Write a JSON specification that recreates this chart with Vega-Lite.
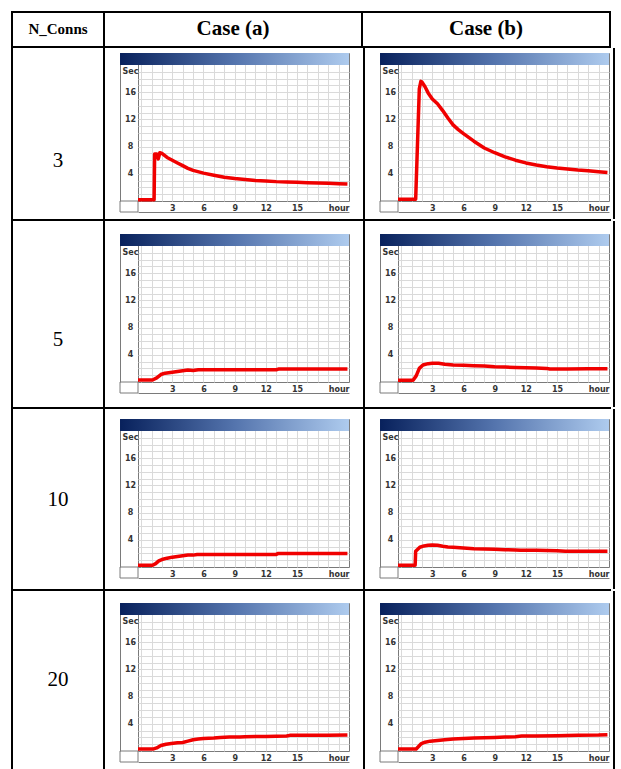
{
  "$schema": "https://vega.github.io/schema/vega-lite/v6.json",
  "padding": {"left": 11, "top": 11, "right": 8, "bottom": 0},
  "background": "white",
  "spacing": 0,
  "config": {
    "view": {"stroke": null},
    "concat": {"spacing": 0},
    "axis": {"grid": true, "domain": true, "labelFont": "DejaVu Sans", "labelFontWeight": "bold", "labelFontSize": 8, "labelColor": "#333333", "ticks": false, "domainColor": "#7a7a7a", "domainWidth": 1, "gridColor": "#dadada", "gridWidth": 1, "labelOverlap": false, "labelFlush": false, "labelBound": false, "labelBaseline": "middle"},
    "axisX": {"labelPadding": -4},
    "axisY": {"labelPadding": -10, "labelAlign": "center"},
    "line": {"color": "#f00000", "strokeWidth": 3.5, "strokeJoin": "round"}
  },
  "datasets": {
    "a1": [{"hour": -0.3, "sec": 0.2}, {"hour": 1.25, "sec": 0.2}, {"hour": 1.3, "sec": 6.9}, {"hour": 1.5, "sec": 6.9}, {"hour": 1.65, "sec": 6.2}, {"hour": 1.8, "sec": 7.1}, {"hour": 2.0, "sec": 7.0}, {"hour": 2.5, "sec": 6.4}, {"hour": 3, "sec": 6.0}, {"hour": 3.5, "sec": 5.6}, {"hour": 4, "sec": 5.2}, {"hour": 4.5, "sec": 4.8}, {"hour": 5, "sec": 4.5}, {"hour": 6, "sec": 4.1}, {"hour": 7, "sec": 3.8}, {"hour": 8, "sec": 3.5}, {"hour": 9, "sec": 3.3}, {"hour": 10, "sec": 3.15}, {"hour": 11, "sec": 3.0}, {"hour": 12, "sec": 2.95}, {"hour": 13, "sec": 2.85}, {"hour": 14, "sec": 2.8}, {"hour": 15, "sec": 2.75}, {"hour": 16, "sec": 2.7}, {"hour": 17, "sec": 2.65}, {"hour": 18, "sec": 2.6}, {"hour": 19, "sec": 2.55}, {"hour": 19.85, "sec": 2.5}],
    "b1": [{"hour": -0.3, "sec": 0.25}, {"hour": 1.4, "sec": 0.25}, {"hour": 1.75, "sec": 16.5}, {"hour": 1.9, "sec": 17.6}, {"hour": 2.0, "sec": 17.5}, {"hour": 2.3, "sec": 16.8}, {"hour": 2.6, "sec": 15.9}, {"hour": 3.0, "sec": 15.0}, {"hour": 3.5, "sec": 14.3}, {"hour": 4.0, "sec": 13.3}, {"hour": 4.5, "sec": 12.2}, {"hour": 5.0, "sec": 11.2}, {"hour": 5.5, "sec": 10.5}, {"hour": 6, "sec": 9.9}, {"hour": 7, "sec": 8.8}, {"hour": 8, "sec": 7.8}, {"hour": 9, "sec": 7.1}, {"hour": 10, "sec": 6.5}, {"hour": 11, "sec": 6.0}, {"hour": 12, "sec": 5.6}, {"hour": 13, "sec": 5.3}, {"hour": 14, "sec": 5.05}, {"hour": 15, "sec": 4.85}, {"hour": 16, "sec": 4.7}, {"hour": 17, "sec": 4.55}, {"hour": 18, "sec": 4.45}, {"hour": 19, "sec": 4.3}, {"hour": 19.85, "sec": 4.2}],
    "a2": [{"hour": -0.3, "sec": 0.3}, {"hour": 1.1, "sec": 0.3}, {"hour": 1.5, "sec": 0.6}, {"hour": 1.9, "sec": 1.1}, {"hour": 2.3, "sec": 1.3}, {"hour": 3.0, "sec": 1.45}, {"hour": 3.5, "sec": 1.55}, {"hour": 4.0, "sec": 1.65}, {"hour": 4.5, "sec": 1.75}, {"hour": 5.0, "sec": 1.7}, {"hour": 5.5, "sec": 1.8}, {"hour": 6, "sec": 1.8}, {"hour": 8, "sec": 1.8}, {"hour": 10, "sec": 1.8}, {"hour": 12, "sec": 1.8}, {"hour": 13.0, "sec": 1.8}, {"hour": 13.2, "sec": 1.9}, {"hour": 15, "sec": 1.9}, {"hour": 17, "sec": 1.9}, {"hour": 19.85, "sec": 1.9}],
    "b2": [{"hour": -0.3, "sec": 0.25}, {"hour": 1.15, "sec": 0.25}, {"hour": 1.45, "sec": 0.9}, {"hour": 1.75, "sec": 2.0}, {"hour": 2.1, "sec": 2.5}, {"hour": 2.6, "sec": 2.7}, {"hour": 3.0, "sec": 2.75}, {"hour": 3.6, "sec": 2.75}, {"hour": 4.2, "sec": 2.6}, {"hour": 5, "sec": 2.5}, {"hour": 6, "sec": 2.45}, {"hour": 7, "sec": 2.4}, {"hour": 8, "sec": 2.35}, {"hour": 9, "sec": 2.25}, {"hour": 10, "sec": 2.2}, {"hour": 11, "sec": 2.15}, {"hour": 12, "sec": 2.1}, {"hour": 13, "sec": 2.05}, {"hour": 14, "sec": 2.0}, {"hour": 14.3, "sec": 1.9}, {"hour": 16, "sec": 1.9}, {"hour": 18, "sec": 1.95}, {"hour": 19.85, "sec": 1.95}],
    "a3": [{"hour": -0.3, "sec": 0.25}, {"hour": 1.1, "sec": 0.25}, {"hour": 1.4, "sec": 0.5}, {"hour": 1.7, "sec": 0.9}, {"hour": 2.0, "sec": 1.1}, {"hour": 2.5, "sec": 1.3}, {"hour": 3.0, "sec": 1.45}, {"hour": 3.5, "sec": 1.55}, {"hour": 4.0, "sec": 1.65}, {"hour": 4.5, "sec": 1.75}, {"hour": 5.0, "sec": 1.75}, {"hour": 5.4, "sec": 1.85}, {"hour": 6, "sec": 1.85}, {"hour": 8, "sec": 1.85}, {"hour": 10, "sec": 1.85}, {"hour": 12, "sec": 1.85}, {"hour": 13.0, "sec": 1.85}, {"hour": 13.2, "sec": 2.0}, {"hour": 15, "sec": 2.0}, {"hour": 17, "sec": 2.0}, {"hour": 19.85, "sec": 2.0}],
    "b3": [{"hour": -0.3, "sec": 0.25}, {"hour": 1.35, "sec": 0.25}, {"hour": 1.4, "sec": 2.3}, {"hour": 1.6, "sec": 2.6}, {"hour": 1.8, "sec": 2.9}, {"hour": 2.2, "sec": 3.1}, {"hour": 2.6, "sec": 3.2}, {"hour": 3.0, "sec": 3.25}, {"hour": 3.5, "sec": 3.2}, {"hour": 4.0, "sec": 3.05}, {"hour": 4.5, "sec": 2.95}, {"hour": 5, "sec": 2.9}, {"hour": 6, "sec": 2.8}, {"hour": 7, "sec": 2.7}, {"hour": 8, "sec": 2.65}, {"hour": 9, "sec": 2.6}, {"hour": 10, "sec": 2.55}, {"hour": 11, "sec": 2.5}, {"hour": 11.5, "sec": 2.45}, {"hour": 13, "sec": 2.45}, {"hour": 15, "sec": 2.4}, {"hour": 15.8, "sec": 2.3}, {"hour": 17, "sec": 2.3}, {"hour": 19.85, "sec": 2.3}],
    "a4": [{"hour": -0.3, "sec": 0.3}, {"hour": 1.2, "sec": 0.3}, {"hour": 1.5, "sec": 0.45}, {"hour": 1.9, "sec": 0.8}, {"hour": 2.4, "sec": 1.0}, {"hour": 2.9, "sec": 1.1}, {"hour": 3.5, "sec": 1.2}, {"hour": 4.0, "sec": 1.25}, {"hour": 4.5, "sec": 1.45}, {"hour": 5.0, "sec": 1.65}, {"hour": 5.5, "sec": 1.75}, {"hour": 6, "sec": 1.85}, {"hour": 7, "sec": 1.9}, {"hour": 7.6, "sec": 2.0}, {"hour": 8.5, "sec": 2.05}, {"hour": 9.5, "sec": 2.05}, {"hour": 10, "sec": 2.1}, {"hour": 12, "sec": 2.15}, {"hour": 14, "sec": 2.2}, {"hour": 14.3, "sec": 2.3}, {"hour": 16, "sec": 2.3}, {"hour": 18, "sec": 2.3}, {"hour": 19.85, "sec": 2.35}],
    "b4": [{"hour": -0.3, "sec": 0.3}, {"hour": 1.45, "sec": 0.3}, {"hour": 1.7, "sec": 0.7}, {"hour": 1.95, "sec": 1.1}, {"hour": 2.3, "sec": 1.3}, {"hour": 2.8, "sec": 1.45}, {"hour": 3.5, "sec": 1.55}, {"hour": 4.2, "sec": 1.65}, {"hour": 5, "sec": 1.75}, {"hour": 6, "sec": 1.85}, {"hour": 7, "sec": 1.9}, {"hour": 8, "sec": 1.95}, {"hour": 9, "sec": 2.0}, {"hour": 10, "sec": 2.05}, {"hour": 11, "sec": 2.1}, {"hour": 11.6, "sec": 2.2}, {"hour": 13, "sec": 2.2}, {"hour": 15, "sec": 2.25}, {"hour": 17, "sec": 2.3}, {"hour": 19, "sec": 2.35}, {"hour": 19.85, "sec": 2.4}]
  },
  "vconcat": [
    {"width": 600, "height": 2, "data": {"values": []}, "mark": "point", "encoding": {}, "view": {"fill": "#000000", "stroke": null}},
    {"spacing": 0, "hconcat": [
      {"width": 2, "height": 33, "data": {"values": []}, "mark": "point", "encoding": {}, "view": {"fill": "#000000", "stroke": null}},
      {"width": 90, "height": 33, "data": {"values": [{"t": "N_Conns"}]}, "mark": {"type": "text", "font": "Liberation Serif", "fontWeight": "bold", "fontSize": 15, "dy": -1, "color": "#000"}, "encoding": {"text": {"field": "t"}}},
      {"width": 2, "height": 33, "data": {"values": []}, "mark": "point", "encoding": {}, "view": {"fill": "#000000", "stroke": null}},
      {"width": 256, "height": 33, "data": {"values": [{"t": "Case (a)"}]}, "mark": {"type": "text", "font": "Liberation Serif", "fontWeight": "bold", "fontSize": 21, "dy": -1, "color": "#000"}, "encoding": {"text": {"field": "t"}}},
      {"width": 2, "height": 33, "data": {"values": []}, "mark": "point", "encoding": {}, "view": {"fill": "#000000", "stroke": null}},
      {"width": 246, "height": 33, "data": {"values": [{"t": "Case (b)"}]}, "mark": {"type": "text", "font": "Liberation Serif", "fontWeight": "bold", "fontSize": 21, "dy": -1, "color": "#000"}, "encoding": {"text": {"field": "t"}}},
      {"width": 2, "height": 33, "data": {"values": []}, "mark": "point", "encoding": {}, "view": {"fill": "#000000", "stroke": null}}
    ]},
    {"width": 600, "height": 2, "data": {"values": []}, "mark": "point", "encoding": {}, "view": {"fill": "#000000", "stroke": null}},
    {"spacing": 0, "hconcat": [
      {"width": 2, "height": 171, "data": {"values": []}, "mark": "point", "encoding": {}, "view": {"fill": "#000000", "stroke": null}},
      {"width": 90, "height": 171, "data": {"values": [{"t": "3"}]}, "mark": {"type": "text", "font": "Liberation Serif", "fontSize": 21, "dy": 27, "color": "#000"}, "encoding": {"text": {"field": "t"}}},
      {"width": 2, "height": 171, "data": {"values": []}, "mark": "point", "encoding": {}, "view": {"fill": "#000000", "stroke": null}},
      {"spacing": 0, "vconcat": [
        {"width": 10, "height": 4, "data": {"values": []}, "mark": "point", "encoding": {}},
        {"width": 211, "height": 148, "view": {"stroke": "#7a7a7a"}, "layer": [
          {"data": {"values": [{}]}, "mark": {"type": "rect", "color": {"gradient": "linear", "x1": 0, "y1": 0, "x2": 1, "y2": 0, "stops": [{"offset": 0, "color": "#08215c"}, {"offset": 0.5, "color": "#5474ad"}, {"offset": 1, "color": "#aecbee"}]}}, "encoding": {
            "x": {"datum": -2.03, "type": "quantitative", "scale": {"domain": [-0.3, 20], "nice": false, "zero": false}, "axis": {"title": null, "grid": true, "domain": true, "offset": 11, "values": [0,1,2,3,4,5,6,7,8,9,10,11,12,13,14,15,16,17,18,19], "labelExpr": "datum.value == 19 ? 'hour' : (datum.value >= 3 && datum.value <= 15 && datum.value % 3 == 0 ? datum.label : '')", "minExtent": 6, "maxExtent": 6}}, "x2": {"datum": 20},
            "y": {"datum": 20, "type": "quantitative", "scale": {"domain": [0, 21.77], "nice": false, "zero": false}, "axis": {"title": null, "grid": true, "domain": true, "offset": 18, "values": [1,2,3,4,5,6,7,8,9,10,11,12,13,14,15,16,17,18,19], "labelExpr": "datum.value == 19 ? 'Sec' : (datum.value % 4 == 0 ? datum.label : '')", "minExtent": 14, "maxExtent": 14}}, "y2": {"datum": 21.77}}},
          {"data": {"values": [{}]}, "mark": {"type": "rect", "fill": null, "stroke": "#7a7a7a", "strokeWidth": 1}, "encoding": {
            "x": {"datum": -2.03, "type": "quantitative", "scale": {"domain": [-0.3, 20], "nice": false, "zero": false}, "axis": {"title": null, "grid": true, "domain": true, "offset": 11, "values": [0,1,2,3,4,5,6,7,8,9,10,11,12,13,14,15,16,17,18,19], "labelExpr": "datum.value == 19 ? 'hour' : (datum.value >= 3 && datum.value <= 15 && datum.value % 3 == 0 ? datum.label : '')", "minExtent": 6, "maxExtent": 6}}, "x2": {"datum": -0.3},
            "y": {"datum": -1.62, "type": "quantitative", "scale": {"domain": [0, 21.77], "nice": false, "zero": false}, "axis": {"title": null, "grid": true, "domain": true, "offset": 18, "values": [1,2,3,4,5,6,7,8,9,10,11,12,13,14,15,16,17,18,19], "labelExpr": "datum.value == 19 ? 'Sec' : (datum.value % 4 == 0 ? datum.label : '')", "minExtent": 14, "maxExtent": 14}}, "y2": {"datum": 0}}},
          {"data": {"name": "a1"}, "mark": "line", "encoding": {
            "x": {"field": "hour", "type": "quantitative", "scale": {"domain": [-0.3, 20], "nice": false, "zero": false}, "axis": {"title": null, "grid": true, "domain": true, "offset": 11, "values": [0,1,2,3,4,5,6,7,8,9,10,11,12,13,14,15,16,17,18,19], "labelExpr": "datum.value == 19 ? 'hour' : (datum.value >= 3 && datum.value <= 15 && datum.value % 3 == 0 ? datum.label : '')", "minExtent": 6, "maxExtent": 6}},
            "y": {"field": "sec", "type": "quantitative", "scale": {"domain": [0, 21.77], "nice": false, "zero": false}, "axis": {"title": null, "grid": true, "domain": true, "offset": 18, "values": [1,2,3,4,5,6,7,8,9,10,11,12,13,14,15,16,17,18,19], "labelExpr": "datum.value == 19 ? 'Sec' : (datum.value % 4 == 0 ? datum.label : '')", "minExtent": 14, "maxExtent": 14}}}}
        ]}
      ]},
      {"width": 13, "height": 1, "data": {"values": []}, "mark": "point", "encoding": {}},
      {"width": 2, "height": 171, "data": {"values": []}, "mark": "point", "encoding": {}, "view": {"fill": "#000000", "stroke": null}},
      {"spacing": 0, "vconcat": [
        {"width": 10, "height": 4, "data": {"values": []}, "mark": "point", "encoding": {}},
        {"width": 211, "height": 148, "view": {"stroke": "#7a7a7a"}, "layer": [
          {"data": {"values": [{}]}, "mark": {"type": "rect", "color": {"gradient": "linear", "x1": 0, "y1": 0, "x2": 1, "y2": 0, "stops": [{"offset": 0, "color": "#08215c"}, {"offset": 0.5, "color": "#5474ad"}, {"offset": 1, "color": "#aecbee"}]}}, "encoding": {
            "x": {"datum": -2.03, "type": "quantitative", "scale": {"domain": [-0.3, 20], "nice": false, "zero": false}, "axis": {"title": null, "grid": true, "domain": true, "offset": 11, "values": [0,1,2,3,4,5,6,7,8,9,10,11,12,13,14,15,16,17,18,19], "labelExpr": "datum.value == 19 ? 'hour' : (datum.value >= 3 && datum.value <= 15 && datum.value % 3 == 0 ? datum.label : '')", "minExtent": 6, "maxExtent": 6}}, "x2": {"datum": 20},
            "y": {"datum": 20, "type": "quantitative", "scale": {"domain": [0, 21.77], "nice": false, "zero": false}, "axis": {"title": null, "grid": true, "domain": true, "offset": 18, "values": [1,2,3,4,5,6,7,8,9,10,11,12,13,14,15,16,17,18,19], "labelExpr": "datum.value == 19 ? 'Sec' : (datum.value % 4 == 0 ? datum.label : '')", "minExtent": 14, "maxExtent": 14}}, "y2": {"datum": 21.77}}},
          {"data": {"values": [{}]}, "mark": {"type": "rect", "fill": null, "stroke": "#7a7a7a", "strokeWidth": 1}, "encoding": {
            "x": {"datum": -2.03, "type": "quantitative", "scale": {"domain": [-0.3, 20], "nice": false, "zero": false}, "axis": {"title": null, "grid": true, "domain": true, "offset": 11, "values": [0,1,2,3,4,5,6,7,8,9,10,11,12,13,14,15,16,17,18,19], "labelExpr": "datum.value == 19 ? 'hour' : (datum.value >= 3 && datum.value <= 15 && datum.value % 3 == 0 ? datum.label : '')", "minExtent": 6, "maxExtent": 6}}, "x2": {"datum": -0.3},
            "y": {"datum": -1.62, "type": "quantitative", "scale": {"domain": [0, 21.77], "nice": false, "zero": false}, "axis": {"title": null, "grid": true, "domain": true, "offset": 18, "values": [1,2,3,4,5,6,7,8,9,10,11,12,13,14,15,16,17,18,19], "labelExpr": "datum.value == 19 ? 'Sec' : (datum.value % 4 == 0 ? datum.label : '')", "minExtent": 14, "maxExtent": 14}}, "y2": {"datum": 0}}},
          {"data": {"name": "b1"}, "mark": "line", "encoding": {
            "x": {"field": "hour", "type": "quantitative", "scale": {"domain": [-0.3, 20], "nice": false, "zero": false}, "axis": {"title": null, "grid": true, "domain": true, "offset": 11, "values": [0,1,2,3,4,5,6,7,8,9,10,11,12,13,14,15,16,17,18,19], "labelExpr": "datum.value == 19 ? 'hour' : (datum.value >= 3 && datum.value <= 15 && datum.value % 3 == 0 ? datum.label : '')", "minExtent": 6, "maxExtent": 6}},
            "y": {"field": "sec", "type": "quantitative", "scale": {"domain": [0, 21.77], "nice": false, "zero": false}, "axis": {"title": null, "grid": true, "domain": true, "offset": 18, "values": [1,2,3,4,5,6,7,8,9,10,11,12,13,14,15,16,17,18,19], "labelExpr": "datum.value == 19 ? 'Sec' : (datum.value % 4 == 0 ? datum.label : '')", "minExtent": 14, "maxExtent": 14}}}}
        ]}
      ]},
      {"width": 3, "height": 1, "data": {"values": []}, "mark": "point", "encoding": {}},
      {"width": 2, "height": 171, "data": {"values": []}, "mark": "point", "encoding": {}, "view": {"fill": "#000000", "stroke": null}}
    ]},
    {"width": 600, "height": 2, "data": {"values": []}, "mark": "point", "encoding": {}, "view": {"fill": "#000000", "stroke": null}},
    {"spacing": 0, "hconcat": [
      {"width": 2, "height": 186, "data": {"values": []}, "mark": "point", "encoding": {}, "view": {"fill": "#000000", "stroke": null}},
      {"width": 90, "height": 186, "data": {"values": [{"t": "5"}]}, "mark": {"type": "text", "font": "Liberation Serif", "fontSize": 21, "dy": 26, "color": "#000"}, "encoding": {"text": {"field": "t"}}},
      {"width": 2, "height": 186, "data": {"values": []}, "mark": "point", "encoding": {}, "view": {"fill": "#000000", "stroke": null}},
      {"spacing": 0, "vconcat": [
        {"width": 10, "height": 12, "data": {"values": []}, "mark": "point", "encoding": {}},
        {"width": 211, "height": 148, "view": {"stroke": "#7a7a7a"}, "layer": [
          {"data": {"values": [{}]}, "mark": {"type": "rect", "color": {"gradient": "linear", "x1": 0, "y1": 0, "x2": 1, "y2": 0, "stops": [{"offset": 0, "color": "#08215c"}, {"offset": 0.5, "color": "#5474ad"}, {"offset": 1, "color": "#aecbee"}]}}, "encoding": {
            "x": {"datum": -2.03, "type": "quantitative", "scale": {"domain": [-0.3, 20], "nice": false, "zero": false}, "axis": {"title": null, "grid": true, "domain": true, "offset": 11, "values": [0,1,2,3,4,5,6,7,8,9,10,11,12,13,14,15,16,17,18,19], "labelExpr": "datum.value == 19 ? 'hour' : (datum.value >= 3 && datum.value <= 15 && datum.value % 3 == 0 ? datum.label : '')", "minExtent": 13, "maxExtent": 13}}, "x2": {"datum": 20},
            "y": {"datum": 20, "type": "quantitative", "scale": {"domain": [0, 21.77], "nice": false, "zero": false}, "axis": {"title": null, "grid": true, "domain": true, "offset": 18, "values": [1,2,3,4,5,6,7,8,9,10,11,12,13,14,15,16,17,18,19], "labelExpr": "datum.value == 19 ? 'Sec' : (datum.value % 4 == 0 ? datum.label : '')", "minExtent": 14, "maxExtent": 14}}, "y2": {"datum": 21.77}}},
          {"data": {"values": [{}]}, "mark": {"type": "rect", "fill": null, "stroke": "#7a7a7a", "strokeWidth": 1}, "encoding": {
            "x": {"datum": -2.03, "type": "quantitative", "scale": {"domain": [-0.3, 20], "nice": false, "zero": false}, "axis": {"title": null, "grid": true, "domain": true, "offset": 11, "values": [0,1,2,3,4,5,6,7,8,9,10,11,12,13,14,15,16,17,18,19], "labelExpr": "datum.value == 19 ? 'hour' : (datum.value >= 3 && datum.value <= 15 && datum.value % 3 == 0 ? datum.label : '')", "minExtent": 13, "maxExtent": 13}}, "x2": {"datum": -0.3},
            "y": {"datum": -1.62, "type": "quantitative", "scale": {"domain": [0, 21.77], "nice": false, "zero": false}, "axis": {"title": null, "grid": true, "domain": true, "offset": 18, "values": [1,2,3,4,5,6,7,8,9,10,11,12,13,14,15,16,17,18,19], "labelExpr": "datum.value == 19 ? 'Sec' : (datum.value % 4 == 0 ? datum.label : '')", "minExtent": 14, "maxExtent": 14}}, "y2": {"datum": 0}}},
          {"data": {"name": "a2"}, "mark": "line", "encoding": {
            "x": {"field": "hour", "type": "quantitative", "scale": {"domain": [-0.3, 20], "nice": false, "zero": false}, "axis": {"title": null, "grid": true, "domain": true, "offset": 11, "values": [0,1,2,3,4,5,6,7,8,9,10,11,12,13,14,15,16,17,18,19], "labelExpr": "datum.value == 19 ? 'hour' : (datum.value >= 3 && datum.value <= 15 && datum.value % 3 == 0 ? datum.label : '')", "minExtent": 13, "maxExtent": 13}},
            "y": {"field": "sec", "type": "quantitative", "scale": {"domain": [0, 21.77], "nice": false, "zero": false}, "axis": {"title": null, "grid": true, "domain": true, "offset": 18, "values": [1,2,3,4,5,6,7,8,9,10,11,12,13,14,15,16,17,18,19], "labelExpr": "datum.value == 19 ? 'Sec' : (datum.value % 4 == 0 ? datum.label : '')", "minExtent": 14, "maxExtent": 14}}}}
        ]}
      ]},
      {"width": 13, "height": 1, "data": {"values": []}, "mark": "point", "encoding": {}},
      {"width": 2, "height": 186, "data": {"values": []}, "mark": "point", "encoding": {}, "view": {"fill": "#000000", "stroke": null}},
      {"spacing": 0, "vconcat": [
        {"width": 10, "height": 12, "data": {"values": []}, "mark": "point", "encoding": {}},
        {"width": 211, "height": 148, "view": {"stroke": "#7a7a7a"}, "layer": [
          {"data": {"values": [{}]}, "mark": {"type": "rect", "color": {"gradient": "linear", "x1": 0, "y1": 0, "x2": 1, "y2": 0, "stops": [{"offset": 0, "color": "#08215c"}, {"offset": 0.5, "color": "#5474ad"}, {"offset": 1, "color": "#aecbee"}]}}, "encoding": {
            "x": {"datum": -2.03, "type": "quantitative", "scale": {"domain": [-0.3, 20], "nice": false, "zero": false}, "axis": {"title": null, "grid": true, "domain": true, "offset": 11, "values": [0,1,2,3,4,5,6,7,8,9,10,11,12,13,14,15,16,17,18,19], "labelExpr": "datum.value == 19 ? 'hour' : (datum.value >= 3 && datum.value <= 15 && datum.value % 3 == 0 ? datum.label : '')", "minExtent": 13, "maxExtent": 13}}, "x2": {"datum": 20},
            "y": {"datum": 20, "type": "quantitative", "scale": {"domain": [0, 21.77], "nice": false, "zero": false}, "axis": {"title": null, "grid": true, "domain": true, "offset": 18, "values": [1,2,3,4,5,6,7,8,9,10,11,12,13,14,15,16,17,18,19], "labelExpr": "datum.value == 19 ? 'Sec' : (datum.value % 4 == 0 ? datum.label : '')", "minExtent": 14, "maxExtent": 14}}, "y2": {"datum": 21.77}}},
          {"data": {"values": [{}]}, "mark": {"type": "rect", "fill": null, "stroke": "#7a7a7a", "strokeWidth": 1}, "encoding": {
            "x": {"datum": -2.03, "type": "quantitative", "scale": {"domain": [-0.3, 20], "nice": false, "zero": false}, "axis": {"title": null, "grid": true, "domain": true, "offset": 11, "values": [0,1,2,3,4,5,6,7,8,9,10,11,12,13,14,15,16,17,18,19], "labelExpr": "datum.value == 19 ? 'hour' : (datum.value >= 3 && datum.value <= 15 && datum.value % 3 == 0 ? datum.label : '')", "minExtent": 13, "maxExtent": 13}}, "x2": {"datum": -0.3},
            "y": {"datum": -1.62, "type": "quantitative", "scale": {"domain": [0, 21.77], "nice": false, "zero": false}, "axis": {"title": null, "grid": true, "domain": true, "offset": 18, "values": [1,2,3,4,5,6,7,8,9,10,11,12,13,14,15,16,17,18,19], "labelExpr": "datum.value == 19 ? 'Sec' : (datum.value % 4 == 0 ? datum.label : '')", "minExtent": 14, "maxExtent": 14}}, "y2": {"datum": 0}}},
          {"data": {"name": "b2"}, "mark": "line", "encoding": {
            "x": {"field": "hour", "type": "quantitative", "scale": {"domain": [-0.3, 20], "nice": false, "zero": false}, "axis": {"title": null, "grid": true, "domain": true, "offset": 11, "values": [0,1,2,3,4,5,6,7,8,9,10,11,12,13,14,15,16,17,18,19], "labelExpr": "datum.value == 19 ? 'hour' : (datum.value >= 3 && datum.value <= 15 && datum.value % 3 == 0 ? datum.label : '')", "minExtent": 13, "maxExtent": 13}},
            "y": {"field": "sec", "type": "quantitative", "scale": {"domain": [0, 21.77], "nice": false, "zero": false}, "axis": {"title": null, "grid": true, "domain": true, "offset": 18, "values": [1,2,3,4,5,6,7,8,9,10,11,12,13,14,15,16,17,18,19], "labelExpr": "datum.value == 19 ? 'Sec' : (datum.value % 4 == 0 ? datum.label : '')", "minExtent": 14, "maxExtent": 14}}}}
        ]}
      ]},
      {"width": 3, "height": 1, "data": {"values": []}, "mark": "point", "encoding": {}},
      {"width": 2, "height": 186, "data": {"values": []}, "mark": "point", "encoding": {}, "view": {"fill": "#000000", "stroke": null}}
    ]},
    {"width": 600, "height": 2, "data": {"values": []}, "mark": "point", "encoding": {}, "view": {"fill": "#000000", "stroke": null}},
    {"spacing": 0, "hconcat": [
      {"width": 2, "height": 180, "data": {"values": []}, "mark": "point", "encoding": {}, "view": {"fill": "#000000", "stroke": null}},
      {"width": 90, "height": 180, "data": {"values": [{"t": "10"}]}, "mark": {"type": "text", "font": "Liberation Serif", "fontSize": 21, "dy": 1, "color": "#000"}, "encoding": {"text": {"field": "t"}}},
      {"width": 2, "height": 180, "data": {"values": []}, "mark": "point", "encoding": {}, "view": {"fill": "#000000", "stroke": null}},
      {"spacing": 0, "vconcat": [
        {"width": 10, "height": 9, "data": {"values": []}, "mark": "point", "encoding": {}},
        {"width": 211, "height": 148, "view": {"stroke": "#7a7a7a"}, "layer": [
          {"data": {"values": [{}]}, "mark": {"type": "rect", "color": {"gradient": "linear", "x1": 0, "y1": 0, "x2": 1, "y2": 0, "stops": [{"offset": 0, "color": "#08215c"}, {"offset": 0.5, "color": "#5474ad"}, {"offset": 1, "color": "#aecbee"}]}}, "encoding": {
            "x": {"datum": -2.03, "type": "quantitative", "scale": {"domain": [-0.3, 20], "nice": false, "zero": false}, "axis": {"title": null, "grid": true, "domain": true, "offset": 11, "values": [0,1,2,3,4,5,6,7,8,9,10,11,12,13,14,15,16,17,18,19], "labelExpr": "datum.value == 19 ? 'hour' : (datum.value >= 3 && datum.value <= 15 && datum.value % 3 == 0 ? datum.label : '')", "minExtent": 10, "maxExtent": 10}}, "x2": {"datum": 20},
            "y": {"datum": 20, "type": "quantitative", "scale": {"domain": [0, 21.77], "nice": false, "zero": false}, "axis": {"title": null, "grid": true, "domain": true, "offset": 18, "values": [1,2,3,4,5,6,7,8,9,10,11,12,13,14,15,16,17,18,19], "labelExpr": "datum.value == 19 ? 'Sec' : (datum.value % 4 == 0 ? datum.label : '')", "minExtent": 14, "maxExtent": 14}}, "y2": {"datum": 21.77}}},
          {"data": {"values": [{}]}, "mark": {"type": "rect", "fill": null, "stroke": "#7a7a7a", "strokeWidth": 1}, "encoding": {
            "x": {"datum": -2.03, "type": "quantitative", "scale": {"domain": [-0.3, 20], "nice": false, "zero": false}, "axis": {"title": null, "grid": true, "domain": true, "offset": 11, "values": [0,1,2,3,4,5,6,7,8,9,10,11,12,13,14,15,16,17,18,19], "labelExpr": "datum.value == 19 ? 'hour' : (datum.value >= 3 && datum.value <= 15 && datum.value % 3 == 0 ? datum.label : '')", "minExtent": 10, "maxExtent": 10}}, "x2": {"datum": -0.3},
            "y": {"datum": -1.62, "type": "quantitative", "scale": {"domain": [0, 21.77], "nice": false, "zero": false}, "axis": {"title": null, "grid": true, "domain": true, "offset": 18, "values": [1,2,3,4,5,6,7,8,9,10,11,12,13,14,15,16,17,18,19], "labelExpr": "datum.value == 19 ? 'Sec' : (datum.value % 4 == 0 ? datum.label : '')", "minExtent": 14, "maxExtent": 14}}, "y2": {"datum": 0}}},
          {"data": {"name": "a3"}, "mark": "line", "encoding": {
            "x": {"field": "hour", "type": "quantitative", "scale": {"domain": [-0.3, 20], "nice": false, "zero": false}, "axis": {"title": null, "grid": true, "domain": true, "offset": 11, "values": [0,1,2,3,4,5,6,7,8,9,10,11,12,13,14,15,16,17,18,19], "labelExpr": "datum.value == 19 ? 'hour' : (datum.value >= 3 && datum.value <= 15 && datum.value % 3 == 0 ? datum.label : '')", "minExtent": 10, "maxExtent": 10}},
            "y": {"field": "sec", "type": "quantitative", "scale": {"domain": [0, 21.77], "nice": false, "zero": false}, "axis": {"title": null, "grid": true, "domain": true, "offset": 18, "values": [1,2,3,4,5,6,7,8,9,10,11,12,13,14,15,16,17,18,19], "labelExpr": "datum.value == 19 ? 'Sec' : (datum.value % 4 == 0 ? datum.label : '')", "minExtent": 14, "maxExtent": 14}}}}
        ]}
      ]},
      {"width": 13, "height": 1, "data": {"values": []}, "mark": "point", "encoding": {}},
      {"width": 2, "height": 180, "data": {"values": []}, "mark": "point", "encoding": {}, "view": {"fill": "#000000", "stroke": null}},
      {"spacing": 0, "vconcat": [
        {"width": 10, "height": 9, "data": {"values": []}, "mark": "point", "encoding": {}},
        {"width": 211, "height": 148, "view": {"stroke": "#7a7a7a"}, "layer": [
          {"data": {"values": [{}]}, "mark": {"type": "rect", "color": {"gradient": "linear", "x1": 0, "y1": 0, "x2": 1, "y2": 0, "stops": [{"offset": 0, "color": "#08215c"}, {"offset": 0.5, "color": "#5474ad"}, {"offset": 1, "color": "#aecbee"}]}}, "encoding": {
            "x": {"datum": -2.03, "type": "quantitative", "scale": {"domain": [-0.3, 20], "nice": false, "zero": false}, "axis": {"title": null, "grid": true, "domain": true, "offset": 11, "values": [0,1,2,3,4,5,6,7,8,9,10,11,12,13,14,15,16,17,18,19], "labelExpr": "datum.value == 19 ? 'hour' : (datum.value >= 3 && datum.value <= 15 && datum.value % 3 == 0 ? datum.label : '')", "minExtent": 10, "maxExtent": 10}}, "x2": {"datum": 20},
            "y": {"datum": 20, "type": "quantitative", "scale": {"domain": [0, 21.77], "nice": false, "zero": false}, "axis": {"title": null, "grid": true, "domain": true, "offset": 18, "values": [1,2,3,4,5,6,7,8,9,10,11,12,13,14,15,16,17,18,19], "labelExpr": "datum.value == 19 ? 'Sec' : (datum.value % 4 == 0 ? datum.label : '')", "minExtent": 14, "maxExtent": 14}}, "y2": {"datum": 21.77}}},
          {"data": {"values": [{}]}, "mark": {"type": "rect", "fill": null, "stroke": "#7a7a7a", "strokeWidth": 1}, "encoding": {
            "x": {"datum": -2.03, "type": "quantitative", "scale": {"domain": [-0.3, 20], "nice": false, "zero": false}, "axis": {"title": null, "grid": true, "domain": true, "offset": 11, "values": [0,1,2,3,4,5,6,7,8,9,10,11,12,13,14,15,16,17,18,19], "labelExpr": "datum.value == 19 ? 'hour' : (datum.value >= 3 && datum.value <= 15 && datum.value % 3 == 0 ? datum.label : '')", "minExtent": 10, "maxExtent": 10}}, "x2": {"datum": -0.3},
            "y": {"datum": -1.62, "type": "quantitative", "scale": {"domain": [0, 21.77], "nice": false, "zero": false}, "axis": {"title": null, "grid": true, "domain": true, "offset": 18, "values": [1,2,3,4,5,6,7,8,9,10,11,12,13,14,15,16,17,18,19], "labelExpr": "datum.value == 19 ? 'Sec' : (datum.value % 4 == 0 ? datum.label : '')", "minExtent": 14, "maxExtent": 14}}, "y2": {"datum": 0}}},
          {"data": {"name": "b3"}, "mark": "line", "encoding": {
            "x": {"field": "hour", "type": "quantitative", "scale": {"domain": [-0.3, 20], "nice": false, "zero": false}, "axis": {"title": null, "grid": true, "domain": true, "offset": 11, "values": [0,1,2,3,4,5,6,7,8,9,10,11,12,13,14,15,16,17,18,19], "labelExpr": "datum.value == 19 ? 'hour' : (datum.value >= 3 && datum.value <= 15 && datum.value % 3 == 0 ? datum.label : '')", "minExtent": 10, "maxExtent": 10}},
            "y": {"field": "sec", "type": "quantitative", "scale": {"domain": [0, 21.77], "nice": false, "zero": false}, "axis": {"title": null, "grid": true, "domain": true, "offset": 18, "values": [1,2,3,4,5,6,7,8,9,10,11,12,13,14,15,16,17,18,19], "labelExpr": "datum.value == 19 ? 'Sec' : (datum.value % 4 == 0 ? datum.label : '')", "minExtent": 14, "maxExtent": 14}}}}
        ]}
      ]},
      {"width": 3, "height": 1, "data": {"values": []}, "mark": "point", "encoding": {}},
      {"width": 2, "height": 180, "data": {"values": []}, "mark": "point", "encoding": {}, "view": {"fill": "#000000", "stroke": null}}
    ]},
    {"width": 600, "height": 2, "data": {"values": []}, "mark": "point", "encoding": {}, "view": {"fill": "#000000", "stroke": null}},
    {"spacing": 0, "hconcat": [
      {"width": 2, "height": 178, "data": {"values": []}, "mark": "point", "encoding": {}, "view": {"fill": "#000000", "stroke": null}},
      {"width": 90, "height": 178, "data": {"values": [{"t": "20"}]}, "mark": {"type": "text", "font": "Liberation Serif", "fontSize": 21, "dy": 0, "color": "#000"}, "encoding": {"text": {"field": "t"}}},
      {"width": 2, "height": 178, "data": {"values": []}, "mark": "point", "encoding": {}, "view": {"fill": "#000000", "stroke": null}},
      {"spacing": 0, "vconcat": [
        {"width": 10, "height": 11, "data": {"values": []}, "mark": "point", "encoding": {}},
        {"width": 211, "height": 148, "view": {"stroke": "#7a7a7a"}, "layer": [
          {"data": {"values": [{}]}, "mark": {"type": "rect", "color": {"gradient": "linear", "x1": 0, "y1": 0, "x2": 1, "y2": 0, "stops": [{"offset": 0, "color": "#08215c"}, {"offset": 0.5, "color": "#5474ad"}, {"offset": 1, "color": "#aecbee"}]}}, "encoding": {
            "x": {"datum": -2.03, "type": "quantitative", "scale": {"domain": [-0.3, 20], "nice": false, "zero": false}, "axis": {"title": null, "grid": true, "domain": true, "offset": 11, "values": [0,1,2,3,4,5,6,7,8,9,10,11,12,13,14,15,16,17,18,19], "labelExpr": "datum.value == 19 ? 'hour' : (datum.value >= 3 && datum.value <= 15 && datum.value % 3 == 0 ? datum.label : '')", "minExtent": 6, "maxExtent": 6}}, "x2": {"datum": 20},
            "y": {"datum": 20, "type": "quantitative", "scale": {"domain": [0, 21.77], "nice": false, "zero": false}, "axis": {"title": null, "grid": true, "domain": true, "offset": 18, "values": [1,2,3,4,5,6,7,8,9,10,11,12,13,14,15,16,17,18,19], "labelExpr": "datum.value == 19 ? 'Sec' : (datum.value % 4 == 0 ? datum.label : '')", "minExtent": 14, "maxExtent": 14}}, "y2": {"datum": 21.77}}},
          {"data": {"values": [{}]}, "mark": {"type": "rect", "fill": null, "stroke": "#7a7a7a", "strokeWidth": 1}, "encoding": {
            "x": {"datum": -2.03, "type": "quantitative", "scale": {"domain": [-0.3, 20], "nice": false, "zero": false}, "axis": {"title": null, "grid": true, "domain": true, "offset": 11, "values": [0,1,2,3,4,5,6,7,8,9,10,11,12,13,14,15,16,17,18,19], "labelExpr": "datum.value == 19 ? 'hour' : (datum.value >= 3 && datum.value <= 15 && datum.value % 3 == 0 ? datum.label : '')", "minExtent": 6, "maxExtent": 6}}, "x2": {"datum": -0.3},
            "y": {"datum": -1.62, "type": "quantitative", "scale": {"domain": [0, 21.77], "nice": false, "zero": false}, "axis": {"title": null, "grid": true, "domain": true, "offset": 18, "values": [1,2,3,4,5,6,7,8,9,10,11,12,13,14,15,16,17,18,19], "labelExpr": "datum.value == 19 ? 'Sec' : (datum.value % 4 == 0 ? datum.label : '')", "minExtent": 14, "maxExtent": 14}}, "y2": {"datum": 0}}},
          {"data": {"name": "a4"}, "mark": "line", "encoding": {
            "x": {"field": "hour", "type": "quantitative", "scale": {"domain": [-0.3, 20], "nice": false, "zero": false}, "axis": {"title": null, "grid": true, "domain": true, "offset": 11, "values": [0,1,2,3,4,5,6,7,8,9,10,11,12,13,14,15,16,17,18,19], "labelExpr": "datum.value == 19 ? 'hour' : (datum.value >= 3 && datum.value <= 15 && datum.value % 3 == 0 ? datum.label : '')", "minExtent": 6, "maxExtent": 6}},
            "y": {"field": "sec", "type": "quantitative", "scale": {"domain": [0, 21.77], "nice": false, "zero": false}, "axis": {"title": null, "grid": true, "domain": true, "offset": 18, "values": [1,2,3,4,5,6,7,8,9,10,11,12,13,14,15,16,17,18,19], "labelExpr": "datum.value == 19 ? 'Sec' : (datum.value % 4 == 0 ? datum.label : '')", "minExtent": 14, "maxExtent": 14}}}}
        ]}
      ]},
      {"width": 13, "height": 1, "data": {"values": []}, "mark": "point", "encoding": {}},
      {"width": 2, "height": 178, "data": {"values": []}, "mark": "point", "encoding": {}, "view": {"fill": "#000000", "stroke": null}},
      {"spacing": 0, "vconcat": [
        {"width": 10, "height": 11, "data": {"values": []}, "mark": "point", "encoding": {}},
        {"width": 211, "height": 148, "view": {"stroke": "#7a7a7a"}, "layer": [
          {"data": {"values": [{}]}, "mark": {"type": "rect", "color": {"gradient": "linear", "x1": 0, "y1": 0, "x2": 1, "y2": 0, "stops": [{"offset": 0, "color": "#08215c"}, {"offset": 0.5, "color": "#5474ad"}, {"offset": 1, "color": "#aecbee"}]}}, "encoding": {
            "x": {"datum": -2.03, "type": "quantitative", "scale": {"domain": [-0.3, 20], "nice": false, "zero": false}, "axis": {"title": null, "grid": true, "domain": true, "offset": 11, "values": [0,1,2,3,4,5,6,7,8,9,10,11,12,13,14,15,16,17,18,19], "labelExpr": "datum.value == 19 ? 'hour' : (datum.value >= 3 && datum.value <= 15 && datum.value % 3 == 0 ? datum.label : '')", "minExtent": 6, "maxExtent": 6}}, "x2": {"datum": 20},
            "y": {"datum": 20, "type": "quantitative", "scale": {"domain": [0, 21.77], "nice": false, "zero": false}, "axis": {"title": null, "grid": true, "domain": true, "offset": 18, "values": [1,2,3,4,5,6,7,8,9,10,11,12,13,14,15,16,17,18,19], "labelExpr": "datum.value == 19 ? 'Sec' : (datum.value % 4 == 0 ? datum.label : '')", "minExtent": 14, "maxExtent": 14}}, "y2": {"datum": 21.77}}},
          {"data": {"values": [{}]}, "mark": {"type": "rect", "fill": null, "stroke": "#7a7a7a", "strokeWidth": 1}, "encoding": {
            "x": {"datum": -2.03, "type": "quantitative", "scale": {"domain": [-0.3, 20], "nice": false, "zero": false}, "axis": {"title": null, "grid": true, "domain": true, "offset": 11, "values": [0,1,2,3,4,5,6,7,8,9,10,11,12,13,14,15,16,17,18,19], "labelExpr": "datum.value == 19 ? 'hour' : (datum.value >= 3 && datum.value <= 15 && datum.value % 3 == 0 ? datum.label : '')", "minExtent": 6, "maxExtent": 6}}, "x2": {"datum": -0.3},
            "y": {"datum": -1.62, "type": "quantitative", "scale": {"domain": [0, 21.77], "nice": false, "zero": false}, "axis": {"title": null, "grid": true, "domain": true, "offset": 18, "values": [1,2,3,4,5,6,7,8,9,10,11,12,13,14,15,16,17,18,19], "labelExpr": "datum.value == 19 ? 'Sec' : (datum.value % 4 == 0 ? datum.label : '')", "minExtent": 14, "maxExtent": 14}}, "y2": {"datum": 0}}},
          {"data": {"name": "b4"}, "mark": "line", "encoding": {
            "x": {"field": "hour", "type": "quantitative", "scale": {"domain": [-0.3, 20], "nice": false, "zero": false}, "axis": {"title": null, "grid": true, "domain": true, "offset": 11, "values": [0,1,2,3,4,5,6,7,8,9,10,11,12,13,14,15,16,17,18,19], "labelExpr": "datum.value == 19 ? 'hour' : (datum.value >= 3 && datum.value <= 15 && datum.value % 3 == 0 ? datum.label : '')", "minExtent": 6, "maxExtent": 6}},
            "y": {"field": "sec", "type": "quantitative", "scale": {"domain": [0, 21.77], "nice": false, "zero": false}, "axis": {"title": null, "grid": true, "domain": true, "offset": 18, "values": [1,2,3,4,5,6,7,8,9,10,11,12,13,14,15,16,17,18,19], "labelExpr": "datum.value == 19 ? 'Sec' : (datum.value % 4 == 0 ? datum.label : '')", "minExtent": 14, "maxExtent": 14}}}}
        ]}
      ]},
      {"width": 3, "height": 1, "data": {"values": []}, "mark": "point", "encoding": {}},
      {"width": 2, "height": 178, "data": {"values": []}, "mark": "point", "encoding": {}, "view": {"fill": "#000000", "stroke": null}}
    ]}
  ]
}
